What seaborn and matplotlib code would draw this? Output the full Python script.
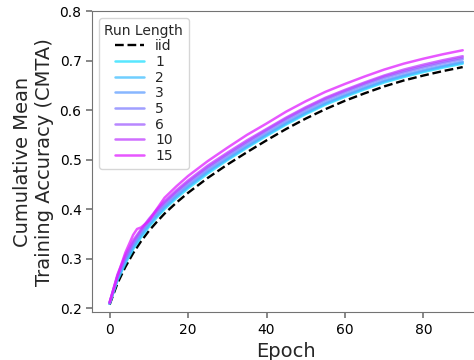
import matplotlib
matplotlib.use('Agg')
import matplotlib.pyplot as plt
import pandas as pd
import seaborn as sns

epochs = [0, 2, 4, 6, 7, 8, 10, 12, 14, 17, 20, 25, 30, 35, 40, 45, 50, 55, 60, 65, 70, 75, 80, 85, 90]

cmta_iid = [0.207, 0.250, 0.283, 0.311, 0.323, 0.335, 0.356, 0.374, 0.391, 0.413, 0.433, 0.463, 0.490,
            0.515, 0.539, 0.562, 0.583, 0.602, 0.619, 0.634, 0.648, 0.660, 0.670, 0.679, 0.687]
cmta_run1 = [0.209, 0.256, 0.290, 0.319, 0.331, 0.343, 0.364, 0.383, 0.400, 0.422, 0.442, 0.472, 0.499,
             0.524, 0.548, 0.571, 0.592, 0.611, 0.627, 0.642, 0.656, 0.667, 0.677, 0.686, 0.694]
cmta_run2 = [0.209, 0.258, 0.293, 0.322, 0.334, 0.346, 0.367, 0.386, 0.403, 0.425, 0.445, 0.475, 0.501,
             0.526, 0.550, 0.573, 0.594, 0.613, 0.629, 0.644, 0.658, 0.669, 0.679, 0.688, 0.696]
cmta_run3 = [0.210, 0.260, 0.296, 0.325, 0.337, 0.349, 0.370, 0.388, 0.405, 0.427, 0.447, 0.477, 0.503,
             0.528, 0.552, 0.575, 0.596, 0.615, 0.631, 0.646, 0.660, 0.671, 0.681, 0.690, 0.698]
cmta_run5 = [0.210, 0.263, 0.300, 0.330, 0.342, 0.354, 0.375, 0.393, 0.410, 0.432, 0.452, 0.482, 0.508,
             0.533, 0.557, 0.580, 0.601, 0.620, 0.636, 0.651, 0.665, 0.676, 0.686, 0.695, 0.703]
cmta_run6 = [0.211, 0.265, 0.303, 0.333, 0.345, 0.357, 0.378, 0.396, 0.413, 0.435, 0.455, 0.485, 0.511,
             0.536, 0.560, 0.583, 0.604, 0.623, 0.639, 0.654, 0.668, 0.679, 0.689, 0.698, 0.706]
cmta_run10 = [0.211, 0.268, 0.307, 0.337, 0.348, 0.359, 0.380, 0.399, 0.416, 0.438, 0.458, 0.488, 0.514,
              0.539, 0.562, 0.585, 0.606, 0.625, 0.641, 0.656, 0.670, 0.682, 0.692, 0.701, 0.709]
cmta_run15 = [0.212, 0.265, 0.312, 0.348, 0.360, 0.363, 0.376, 0.400, 0.423, 0.446, 0.467, 0.497, 0.524,
              0.550, 0.573, 0.597, 0.618, 0.637, 0.653, 0.668, 0.682, 0.694, 0.704, 0.713, 0.721]

run_labels = ['1', '2', '3', '5', '6', '10', '15']
run_curves = [cmta_run1, cmta_run2, cmta_run3, cmta_run5, cmta_run6, cmta_run10, cmta_run15]

sns.set_style('ticks', rc={
    'axes.edgecolor': '0.45',
    'axes.linewidth': 1.5,
    'xtick.color': '0.45',
    'ytick.color': '0.45',
})
plt.rcParams['font.family'] = ['DejaVu Sans']

fig = plt.figure(figsize=(4.74, 3.6), dpi=100)
# the right edge of the axes sits just outside the saved picture
ax = fig.add_axes([0.194, 0.133, 0.8194, 0.836])

df_iid = pd.DataFrame({'epoch': epochs, 'cmta': cmta_iid})
sns.lineplot(data=df_iid, x='epoch', y='cmta', ax=ax, color='black', linestyle='--',
             linewidth=1.7, label='iid')

colors = sns.color_palette('cool', len(run_labels))
for label, curve, color in zip(run_labels, run_curves, colors):
    df_run = pd.DataFrame({'epoch': epochs, 'cmta': curve})
    sns.lineplot(data=df_run, x='epoch', y='cmta', ax=ax, color=color, alpha=0.75,
                 linewidth=1.8, label=label)

ax.set_xlim(-4.5, 94.5)
ax.set_ylim(0.192, 0.8)
ax.set_xticks([0, 20, 40, 60, 80])
ax.set_yticks([0.2, 0.3, 0.4, 0.5, 0.6, 0.7, 0.8])
ax.tick_params(labelsize=10, length=4, width=1.2, labelcolor='black')
ax.set_xlabel('Epoch', fontsize=14)
ax.set_ylabel('Cumulative Mean\nTraining Accuracy (CMTA)', fontsize=14)

leg = ax.legend(title='Run Length', loc='upper left', fontsize=10, title_fontsize=10,
                labelspacing=0.12, handlelength=2.1, borderaxespad=0.5)

fig.savefig('out.png', dpi=100)
plt.close(fig)
